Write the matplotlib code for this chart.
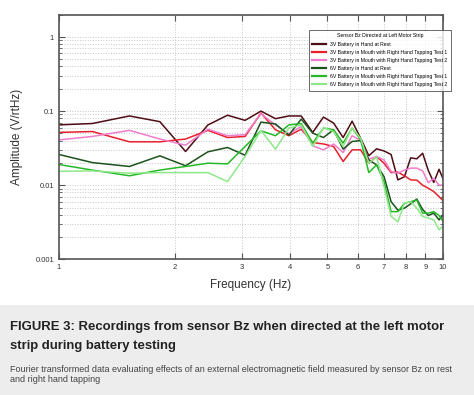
import numpy as np
import matplotlib
matplotlib.use('Agg')
import matplotlib.pyplot as plt
from matplotlib.ticker import FixedLocator, FixedFormatter, NullFormatter

# frequency bins (Hz)
freq = [0.916, 1.221, 1.526, 1.831, 2.136, 2.442, 2.747, 3.052, 3.357, 3.662,
        3.968, 4.273, 4.578, 4.883, 5.188, 5.494, 5.799, 6.104, 6.409, 6.714,
        7.020, 7.325, 7.630, 7.935, 8.240, 8.546, 8.851, 9.156, 9.461, 9.766, 10.07]

bat3_rest = [0.064, 0.068, 0.086, 0.072, 0.0285, 0.065, 0.088, 0.075, 0.100, 0.079,
             0.086, 0.086, 0.0515, 0.083, 0.069, 0.044, 0.073, 0.043, 0.025, 0.031,
             0.029, 0.026, 0.0118, 0.013, 0.0234, 0.0227, 0.027, 0.0158, 0.0109, 0.0164, 0.0112]
bat3_tap1 = [0.051, 0.053, 0.0385, 0.0385, 0.042, 0.055, 0.044, 0.0455, 0.094, 0.056,
             0.0465, 0.057, 0.0377, 0.036, 0.0333, 0.0209, 0.030, 0.030, 0.0198, 0.0244,
             0.0198, 0.0148, 0.015, 0.0134, 0.0118, 0.0117, 0.010, 0.0091, 0.0082, 0.0070, 0.006]
bat3_tap2 = [0.039, 0.0455, 0.055, 0.042, 0.0347, 0.057, 0.0465, 0.048, 0.092, 0.065,
             0.0495, 0.062, 0.034, 0.030, 0.036, 0.0276, 0.0465, 0.040, 0.0225, 0.0244,
             0.022, 0.0153, 0.0145, 0.016, 0.017, 0.017, 0.0156, 0.0108, 0.0124, 0.010, 0.010]
bat6_rest = [0.029, 0.0202, 0.0179, 0.0249, 0.0183, 0.0282, 0.0323, 0.0254, 0.071, 0.067,
             0.0474, 0.078, 0.0505, 0.044, 0.056, 0.0307, 0.0389, 0.040, 0.022, 0.0188,
             0.0131, 0.006, 0.0046, 0.0049, 0.0056, 0.0065, 0.0047, 0.0039, 0.0042, 0.0034, 0.0042]
bat6_tap1 = [0.0205, 0.016, 0.0134, 0.016, 0.0179, 0.0198, 0.0194, 0.0333, 0.0543, 0.0465,
             0.065, 0.068, 0.037, 0.059, 0.056, 0.037, 0.059, 0.041, 0.0148, 0.0188,
             0.0112, 0.0044, 0.0044, 0.0057, 0.006, 0.0063, 0.0042, 0.0042, 0.0044, 0.0039, 0.0031]
bat6_tap2 = [0.0153, 0.0156, 0.0145, 0.0148, 0.0148, 0.0148, 0.0112, 0.0244, 0.0548, 0.0307,
             0.059, 0.065, 0.0333, 0.060, 0.053, 0.0333, 0.059, 0.043, 0.0198, 0.0244,
             0.0096, 0.0038, 0.0032, 0.0057, 0.006, 0.0049, 0.0038, 0.0036, 0.0034, 0.0025, 0.0029]

labels = ['3V Battery in Hand at Rest',
          '3V Battery in Mouth with Right Hand Tapping Test 1',
          '3V Battery in Mouth with Right Hand Tapping Test 2',
          '6V Battery in Hand at Rest',
          '6V Battery in Mouth with Right Hand Tapping Test 1',
          '6V Battery in Mouth with Right Hand Tapping Test 2']
series = [bat3_rest, bat3_tap1, bat3_tap2, bat6_rest, bat6_tap1, bat6_tap2]
colors = ['#4e0c14', '#e8202c', '#f07ccc', '#1c521c', '#26b826', '#8ee88a']

plt.rcParams['font.family'] = ['Liberation Sans', 'DejaVu Sans']

fig = plt.figure(figsize=(4.74, 3.95), dpi=100)
fig.patch.set_facecolor('white')

# caption box
fig.patches.append(plt.Rectangle((0, 0), 1, 90 / 395, transform=fig.transFigure,
                                 facecolor='#ededed', edgecolor='none', zorder=0))

ax = fig.add_axes([59 / 474, 1 - 259.3 / 395, 384 / 474, 244.6 / 395])
for y, lab, c in zip(series, labels, colors):
    ax.plot(freq, y, color=c, lw=1.1, label=lab)

ax.set_xscale('log')
ax.set_yscale('log')
ax.set_xlim(1, 10)
ax.set_ylim(0.001, 2)

xt = [1, 2, 3, 4, 5, 6, 7, 8, 9, 10]
ax.xaxis.set_major_locator(FixedLocator(xt))
ax.xaxis.set_major_formatter(FixedFormatter([str(v) for v in xt]))
ax.xaxis.set_minor_locator(FixedLocator([]))
ax.xaxis.set_minor_formatter(NullFormatter())
ax.yaxis.set_major_locator(FixedLocator([0.001, 0.01, 0.1, 1]))
ax.yaxis.set_major_formatter(FixedFormatter(['0.001', '0.01', '0.1', '1']))

ax.tick_params(which='both', direction='in', top=True, right=True, labelsize=5.5,
               color='#555555', labelcolor='#333333')
ax.tick_params(which='major', length=4, width=0.8)
ax.tick_params(which='minor', length=2, width=0.6)
ax.grid(True, which='major', color='#c8c8c8', ls=':', lw=0.7)
ax.grid(True, which='minor', axis='y', color='#c8c8c8', ls=':', lw=0.7)
for s in ax.spines.values():
    s.set_color('#555555')
    s.set_linewidth(1.2)

ax.set_xlabel('Frequency (Hz)', fontsize=8.5, color='#333333', labelpad=6)
ax.set_ylabel('Amplitude (V/rtHz)', fontsize=8.5, color='#333333', labelpad=9)

leg = ax.legend(loc='upper left', bbox_to_anchor=(306 / 474, 1 - 27 / 395),
                bbox_transform=fig.transFigure, fontsize=3.7, frameon=True,
                fancybox=False, edgecolor='#444444', title='Sensor Bz Directed at Left Motor Strip',
                title_fontsize=3.7, handlelength=2.6, labelspacing=0.6, borderpad=0.75)
leg.get_frame().set_linewidth(0.7)
for line in leg.get_lines():
    line.set_linewidth(1.6)

fig.text(10 / 474, 1 - 327 / 395, 'FIGURE 3: Recordings from sensor Bz when directed at the left motor',
         fontsize=9.45, fontweight='bold', color='#222222', va='center')
fig.text(10 / 474, 1 - 346 / 395, 'strip during battery testing',
         fontsize=9.45, fontweight='bold', color='#222222', va='center')
fig.text(10 / 474, 1 - 369 / 395,
         'Fourier transformed data evaluating effects of an external electromagnetic field measured by sensor Bz on rest',
         fontsize=6.45, color='#444444', va='center')
fig.text(10 / 474, 1 - 380 / 395, 'and right hand tapping',
         fontsize=6.45, color='#444444', va='center')

fig.savefig('out.png', dpi=100)
